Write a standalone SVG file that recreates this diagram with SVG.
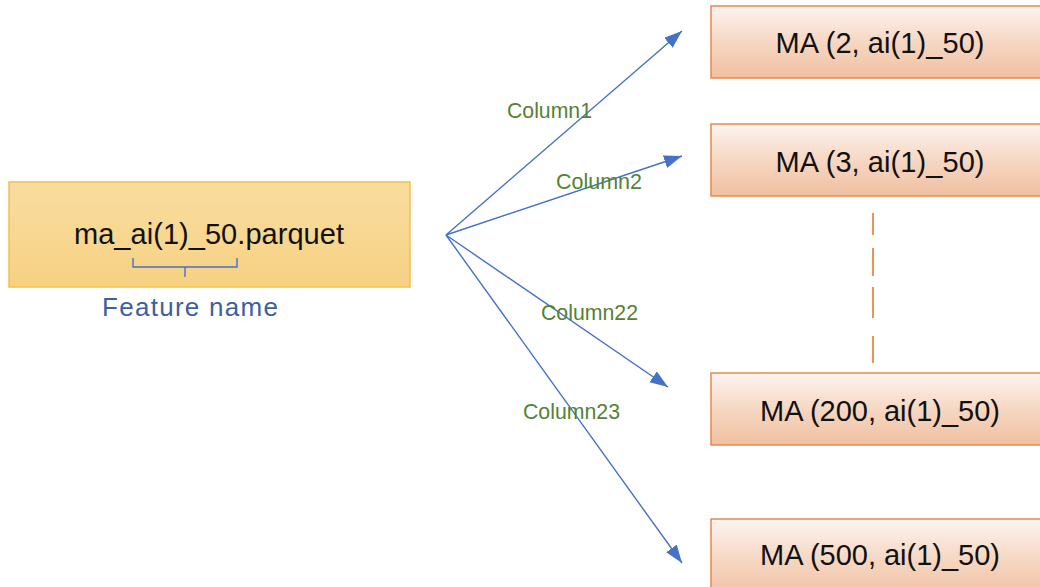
<svg xmlns="http://www.w3.org/2000/svg" width="1040" height="587" viewBox="0 0 1040 587">
<defs>
<linearGradient id="gold" x1="0" y1="0" x2="0" y2="1">
<stop offset="0" stop-color="#f9dd9f"/>
<stop offset="1" stop-color="#f6d183"/>
</linearGradient>
<linearGradient id="peach" x1="0" y1="0" x2="0" y2="1">
<stop offset="0" stop-color="#fdf4f0"/>
<stop offset="0.5" stop-color="#f6d7c3"/>
<stop offset="1" stop-color="#f0c0a0"/>
</linearGradient>
<marker id="arr" markerUnits="userSpaceOnUse" markerWidth="20" markerHeight="14" refX="18" refY="6.5" orient="auto">
<path d="M0,0 L18,6.5 L0,13 z" fill="#4472c4"/>
</marker>
</defs>
<style>
.ma{fill:url(#peach);stroke:#e8884f;stroke-width:1.5}
.mat{font-family:"Liberation Sans",Arial,sans-serif;font-size:29px;fill:#111;text-anchor:middle}
.col{font-family:"Liberation Sans",Arial,sans-serif;font-size:22px;fill:#548235}
.conn{stroke:#4472c4;stroke-width:1.4;fill:none;marker-end:url(#arr)}
.dash{stroke:#e8955a;stroke-width:2}
</style>
<rect width="1040" height="587" fill="#ffffff"/>
<g id="source">
<rect x="9" y="182" width="401" height="105" fill="url(#gold)" stroke="#f2c14e" stroke-width="1.5"/>
<text x="209" y="244" font-family="Liberation Sans,Arial,sans-serif" font-size="29" fill="#111" text-anchor="middle" textLength="270" lengthAdjust="spacing">ma_ai(1)_50.parquet</text>
<path d="M133,258 V267 H237 V258 M185,267 V277" fill="none" stroke="#4472c4" stroke-width="1.4"/>
<text x="190" y="316" font-family="Liberation Sans,Arial,sans-serif" font-size="26" fill="#3e5f9e" text-anchor="middle" textLength="176" lengthAdjust="spacing">Feature name</text>
</g>
<g id="ma2">
<rect class="ma" x="711" y="6" width="335" height="72"/>
<text class="mat" x="880" y="53" textLength="209" lengthAdjust="spacing">MA (2, ai(1)_50)</text>
</g>
<g id="ma3">
<rect class="ma" x="711" y="124" width="335" height="72"/>
<text class="mat" x="880" y="172" textLength="209" lengthAdjust="spacing">MA (3, ai(1)_50)</text>
</g>
<g id="ma200">
<rect class="ma" x="711" y="373" width="335" height="72"/>
<text class="mat" x="880" y="421" textLength="240" lengthAdjust="spacing">MA (200, ai(1)_50)</text>
</g>
<g id="ma500">
<rect class="ma" x="711" y="519" width="335" height="80"/>
<text class="mat" x="880" y="565" textLength="240" lengthAdjust="spacing">MA (500, ai(1)_50)</text>
</g>
<g id="ellipsis">
<line class="dash" x1="873" y1="213" x2="873" y2="235"/>
<line class="dash" x1="873" y1="248" x2="873" y2="276"/>
<line class="dash" x1="873" y1="287" x2="873" y2="318"/>
<line class="dash" x1="873" y1="336" x2="873" y2="363"/>
</g>
<g id="connectors">
<line class="conn" x1="446" y1="235" x2="682" y2="31"/>
<line class="conn" x1="446" y1="235" x2="682" y2="156"/>
<line class="conn" x1="446" y1="235" x2="668" y2="387"/>
<line class="conn" x1="446" y1="235" x2="682" y2="563"/>
<text class="col" x="507" y="118" textLength="85" lengthAdjust="spacingAndGlyphs">Column1</text>
<text class="col" x="556" y="189" textLength="86" lengthAdjust="spacingAndGlyphs">Column2</text>
<text class="col" x="541" y="320" textLength="97" lengthAdjust="spacingAndGlyphs">Column22</text>
<text class="col" x="523" y="419" textLength="97" lengthAdjust="spacingAndGlyphs">Column23</text>
</g>
</svg>
